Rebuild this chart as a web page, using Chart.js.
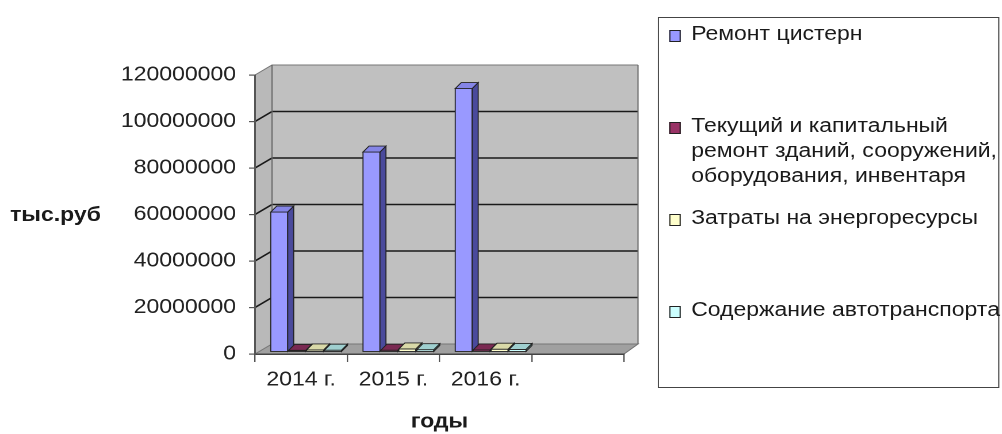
<!DOCTYPE html>
<html>
<head>
<meta charset="utf-8">
<script src="https://cdn.jsdelivr.net/npm/chart.js@4/dist/chart.umd.min.js"></script>
<style>
  html, body { margin:0; padding:0; width:1002px; height:434px; overflow:hidden; background:#fff; }
  #wrap { position:absolute; left:0; top:0; height:434px; transform-origin:0 0; }
  #chartBox { position:absolute; left:0; top:0; width:100%; height:434px; }
  #legend { position:absolute; top:17px; height:371px; border:1.5px solid #444; box-sizing:border-box; background:#fff; }
  .row { position:relative; height:92px; box-sizing:border-box; padding-top:3px; font-family:"Liberation Sans", Arial, sans-serif; font-size:20px; line-height:25px; color:#1a1a1a; white-space:pre; }
  .sw { position:absolute; top:12px; width:10.5px; height:12px; box-sizing:border-box; border:1px solid #222; }
</style>
</head>
<body>
<div id="wrap">
  <div id="chartBox"><canvas id="c"></canvas></div>
  <div id="legend"></div>
</div>
<script>
// ---- data ----
const categories = ["2014 г.", "2015 г.", "2016 г.", ""];
const seriesNames = [
  "Ремонт цистерн",
  "Текущий и капитальный\nремонт зданий, сооружений,\nоборудования, инвентаря",
  "Затраты на энергоресурсы",
  "Содержание автотранспорта"
];
const remontCistern = [60200000, 86000000, 113300000, null];
const remontZdaniy  = [700000, 800000, 900000, null];
const energoresursy = [900000, 1300000, 1200000, null];
const avtotransport = [800000, 1000000, 1100000, null];
const yTicks = [0, 20000000, 40000000, 60000000, 80000000, 100000000, 120000000];
const yTitle = "тыс.руб";
const xTitle = "годы";

// ---- styling ----
const frontColors = ["#9999ff", "#993366", "#ffffcc", "#ccffff"];
const sideColors  = ["#4a4a9c", "#4d1933", "#a3a375", "#6d9e9e"];
const topColors   = ["#8585e6", "#7a2952", "#d9d9a8", "#9fcfcf"];

const S = 1.15;               // horizontal stretch of the reference
const W = 1002 / S;
const wrap = document.getElementById('wrap');
wrap.style.width = W + 'px';
wrap.style.transform = 'scaleX(' + S + ')';

const DX_L = 17 / S, DX_R = 14 / S, DY = -10;     // wall depth
const SHIFT_X = 5 / S, SHIFT_Y = -2;               // bar depth placement
const BAR_DX = 6 / S, BAR_DY = -6;                 // bar thickness

// legend (HTML)
const lg = document.getElementById('legend');
lg.style.left = (658 / S) + 'px';
lg.style.width = ((999 - 658) / S) + 'px';
seriesNames.forEach((name, i) => {
  const r = document.createElement('div');
  r.className = 'row';
  r.style.paddingLeft = (32 / S) + 'px';
  const sw = document.createElement('span');
  sw.className = 'sw';
  sw.style.left = (10 / S) + 'px';
  sw.style.background = frontColors[i];
  r.appendChild(sw);
  r.appendChild(document.createTextNode(name));
  lg.appendChild(r);
});

const wallPlugin = {
  id: 'wall3d',
  beforeDraw(chart) {
    const ctx = chart.ctx;
    const {left: L, right: R, top: T, bottom: B} = chart.chartArea;
    const y = chart.scales.y;
    ctx.save();
    // back wall
    ctx.fillStyle = '#c0c0c0';
    ctx.fillRect(L + DX_L, T + DY, (R + DX_R) - (L + DX_L), B - T);
    // left wall
    ctx.beginPath();
    ctx.moveTo(L, T); ctx.lineTo(L + DX_L, T + DY); ctx.lineTo(L + DX_L, B + DY); ctx.lineTo(L, B); ctx.closePath();
    ctx.fillStyle = '#b9b9b9'; ctx.fill();
    // floor
    ctx.beginPath();
    ctx.moveTo(L, B); ctx.lineTo(R, B); ctx.lineTo(R + DX_R, B + DY); ctx.lineTo(L + DX_L, B + DY); ctx.closePath();
    ctx.fillStyle = '#a0a0a0'; ctx.fill();
    ctx.strokeStyle = '#777'; ctx.lineWidth = 1; ctx.stroke();
    // gridlines
    y.ticks.forEach(t => {
      if (t.value === 0) return;
      const yf = y.getPixelForValue(t.value);
      ctx.beginPath();
      ctx.moveTo(L, yf); ctx.lineTo(L + DX_L, yf + DY); ctx.lineTo(R + DX_R, yf + DY);
      ctx.strokeStyle = t.value === yTicks[yTicks.length - 1] ? '#777' : '#1a1a1a';
      ctx.lineWidth = t.value === yTicks[yTicks.length - 1] ? 1 : 1.6;
      ctx.stroke();
    });
    // wall edges
    ctx.strokeStyle = '#666'; ctx.lineWidth = 1;
    ctx.beginPath();
    ctx.moveTo(L + DX_L, T + DY); ctx.lineTo(L + DX_L, B + DY);
    ctx.moveTo(R + DX_R, T + DY); ctx.lineTo(R + DX_R, B + DY);
    ctx.stroke();
    ctx.restore();
  },
  beforeDatasetsDraw(chart) {
    chart.ctx.save();
    chart.ctx.translate(SHIFT_X, SHIFT_Y);
  },
  afterDatasetsDraw(chart) {
    const ctx = chart.ctx;
    const n = chart.data.labels.length;
    for (let i = 0; i < n; i++) {
      chart.data.datasets.forEach((ds, d) => {
        if (ds.data[i] == null) return;
        const bar = chart.getDatasetMeta(d).data[i];
        const {x, y, base, width} = bar.getProps(['x', 'y', 'base', 'width'], true);
        const l = x - width / 2, r = x + width / 2;
        ctx.strokeStyle = '#222'; ctx.lineWidth = 0.9;
        // front
        ctx.fillStyle = frontColors[d];
        ctx.beginPath(); ctx.rect(l, y, width, base - y); ctx.fill(); ctx.stroke();
        // side
        ctx.beginPath();
        ctx.moveTo(r, y); ctx.lineTo(r + BAR_DX, y + BAR_DY); ctx.lineTo(r + BAR_DX, base + BAR_DY); ctx.lineTo(r, base); ctx.closePath();
        ctx.fillStyle = sideColors[d]; ctx.fill(); ctx.stroke();
        // top
        ctx.beginPath();
        ctx.moveTo(l, y); ctx.lineTo(l + BAR_DX, y + BAR_DY); ctx.lineTo(r + BAR_DX, y + BAR_DY); ctx.lineTo(r, y); ctx.closePath();
        ctx.fillStyle = topColors[d]; ctx.fill(); ctx.stroke();
      });
    }
    ctx.restore();
  },
  afterDraw(chart) {
    const ctx = chart.ctx;
    ctx.save();
    ctx.font = 'bold 20px "Liberation Sans", Arial, sans-serif';
    ctx.fillStyle = '#1a1a1a';
    ctx.textAlign = 'left';
    ctx.textBaseline = 'middle';
    const ca = chart.chartArea;
    ctx.fillText(yTitle, 10 / S, (ca.top + ca.bottom) / 2 + 1);
    ctx.restore();
  }
};

const allSeries = [remontCistern, remontZdaniy, energoresursy, avtotransport];
const fontFam = '"Liberation Sans", Arial, sans-serif';

new Chart(document.getElementById('c'), {
  type: 'bar',
  data: {
    labels: categories,
    datasets: allSeries.map((vals, i) => ({
      label: seriesNames[i],
      data: vals,
      backgroundColor: frontColors[i],
      borderColor: '#222',
      borderWidth: 1,
      categoryPercentage: 0.778,
      barPercentage: 0.945,
      clip: false
    }))
  },
  options: {
    responsive: true,
    maintainAspectRatio: false,
    animation: false,
    devicePixelRatio: 2,
    layout: { padding: { left: 0, top: 75, bottom: 0, right: W - 624 / S } },
    plugins: { legend: { display: false }, tooltip: { enabled: false } },
    scales: {
      x: {
        afterFit(s) { s.height = 80; },
        grid: { offset: true, drawOnChartArea: false, drawTicks: true, tickLength: 8, color: '#555', lineWidth: 1.2 },
        border: { display: true, color: '#444', width: 1.5 },
        ticks: { color: '#222', font: { family: fontFam, size: 20 }, padding: 6, maxRotation: 0, autoSkip: false },
        title: { display: true, text: xTitle, color: '#1a1a1a', font: { family: fontFam, size: 20, weight: 'bold' }, padding: { top: 0, bottom: 0 } }
      },
      y: {
        min: 0, max: 120000000,
        afterFit(s) { s.width = 255 / S; },
        afterBuildTicks(s) { s.ticks = yTicks.map(v => ({ value: v })); },
        grid: { drawOnChartArea: false, drawTicks: true, tickLength: 6 / S, color: '#555', lineWidth: 1.2 },
        border: { display: true, color: '#555', width: 1.5 },
        ticks: { color: '#222', font: { family: fontFam, size: 20 }, padding: 11.3, callback: v => String(v) }
      }
    }
  },
  plugins: [wallPlugin]
});
</script>
</body>
</html>
